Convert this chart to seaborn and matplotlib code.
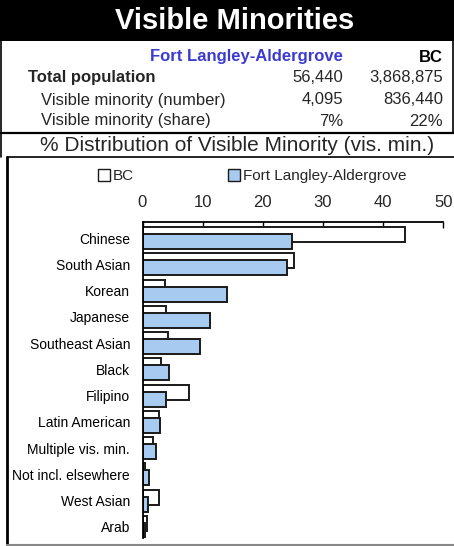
import matplotlib
matplotlib.use("Agg")
import numpy as np
import pandas as pd
import seaborn as sns
import matplotlib.pyplot as plt
from matplotlib.patches import Rectangle, Patch
from matplotlib.lines import Line2D

# ---------------- data ----------------
title = "Visible Minorities"
region = "Fort Langley-Aldergrove"
province = "BC"
row_labels = ["Total population", "Visible minority (number)", "Visible minority (share)"]
region_values = ["56,440", "4,095", "7%"]
province_values = ["3,868,875", "836,440", "22%"]
subtitle = "% Distribution of Visible Minority (vis. min.)"

categories = ["Chinese", "South Asian", "Korean", "Japanese", "Southeast Asian",
              "Black", "Filipino", "Latin American", "Multiple vis. min.",
              "Not incl. elsewhere", "West Asian", "Arab"]
bc_values = [43.6, 25.1, 3.8, 3.9, 4.2, 3.0, 7.7, 2.8, 1.8, 0.4, 2.7, 0.8]
fla_values = [24.8, 24.0, 14.1, 11.2, 9.6, 4.4, 3.9, 2.9, 2.2, 1.1, 0.9, 0.4]
x_ticks = [0, 10, 20, 30, 40, 50]

# ---------------- style ----------------
sns.set_theme(style="white")
plt.rcParams["font.family"] = ["Liberation Sans", "DejaVu Sans"]

W, H = 454, 546
fig = plt.figure(figsize=(W / 100, H / 100), dpi=100)
fig.patch.set_facecolor("white")


def fx(px):
    return px / W


def fy(py):
    return 1 - py / H


tf = fig.transFigure

# header band
fig.patches.append(Rectangle((0, fy(41)), 1, 41 / H, transform=tf,
                             facecolor="black", edgecolor="none", zorder=0))
fig.text(fx(235), fy(21), title, color="white", fontsize=21, fontweight="bold",
         ha="center", va="center")

# table
fig.text(fx(343), fy(57), region, color="#3b3bd0", fontsize=12, fontweight="bold",
         ha="right", va="center")
fig.text(fx(443), fy(57), province, color="black", fontsize=12, fontweight="bold",
         ha="right", va="center")
row_y = [78, 100, 121]
for i, (lab, rv, pv) in enumerate(zip(row_labels, region_values, province_values)):
    bold = i == 0
    fig.text(fx(28 if bold else 41), fy(row_y[i]), lab, fontsize=12,
             fontweight="bold" if bold else "normal", ha="left", va="center")
    fig.text(fx(343), fy(row_y[i]), rv, fontsize=12, ha="right", va="center")
    fig.text(fx(443), fy(row_y[i]), pv, fontsize=12, ha="right", va="center")

# frame lines
lines = [
    ([0, 1], [fy(133), fy(133)], "black", 1.6),
    ([fx(0.8), fx(0.8)], [fy(41), fy(157)], "black", 1.2),
    ([fx(452.8), fx(452.8)], [fy(41), fy(133)], "black", 1.2),
    ([fx(7), 1], [fy(157), fy(157)], "black", 1.2),
    ([fx(7), fx(7)], [fy(157), fy(544)], "black", 2.0),
    ([fx(7), 1], [fy(544.5), fy(544.5)], "#888888", 1.5),
]
for xs, ys, c, lw in lines:
    fig.add_artist(Line2D(xs, ys, transform=tf, color=c, linewidth=lw))

fig.text(fx(237), fy(146), subtitle, fontsize=15, ha="center", va="center")

# ---------------- bar chart ----------------
ax = fig.add_axes([fx(142.5), fy(538), fx(443.3) - fx(142.5), (538 - 222) / H])
series_names = [province, region]
df = pd.DataFrame({
    "cat": categories * 2,
    "val": bc_values + fla_values,
    "series": [province] * len(categories) + [region] * len(categories),
})
colors = {province: "white", region: "#A6CAF0"}
sns.barplot(data=df, y="cat", x="val", hue="series", hue_order=series_names,
            order=categories, orient="h", dodge=True, width=0.54,
            palette=colors, saturation=1, edgecolor="#1a1a1a", linewidth=1.4,
            legend=False, ax=ax)
for p in ax.patches:
    c = p.get_y() + p.get_height() / 2
    p.set_height(0.57)
    p.set_y(c - 0.285)

ax.set_xlim(0, 50)
ax.set_ylim(11.42, -0.61)
ax.set_xticks(x_ticks)
ax.xaxis.tick_top()
ax.tick_params(axis="x", direction="in", length=4, width=1, color="black",
               labelsize=12, pad=8.5, top=True, bottom=False)
ax.tick_params(axis="y", length=0, labelsize=10, pad=9, labelcolor="black")
ax.set_xlabel("")
ax.set_ylabel("")
ax.set_facecolor("white")
for s in ["right", "bottom"]:
    ax.spines[s].set_visible(False)
for s in ["top", "left"]:
    ax.spines[s].set_visible(True)
    ax.spines[s].set_color("black")
    ax.spines[s].set_linewidth(1.3)

handles = [Patch(facecolor=colors[n], edgecolor="#1a1a1a", linewidth=1.0) for n in series_names]
fig.legend(handles, series_names, loc="center", bbox_to_anchor=(fx(252), fy(176)),
           ncol=2, frameon=False, fontsize=11, handlelength=0.8, handleheight=0.8,
           handletextpad=0.15, columnspacing=6.2, borderpad=0, borderaxespad=0)

fig.savefig("out.png", dpi=100)
